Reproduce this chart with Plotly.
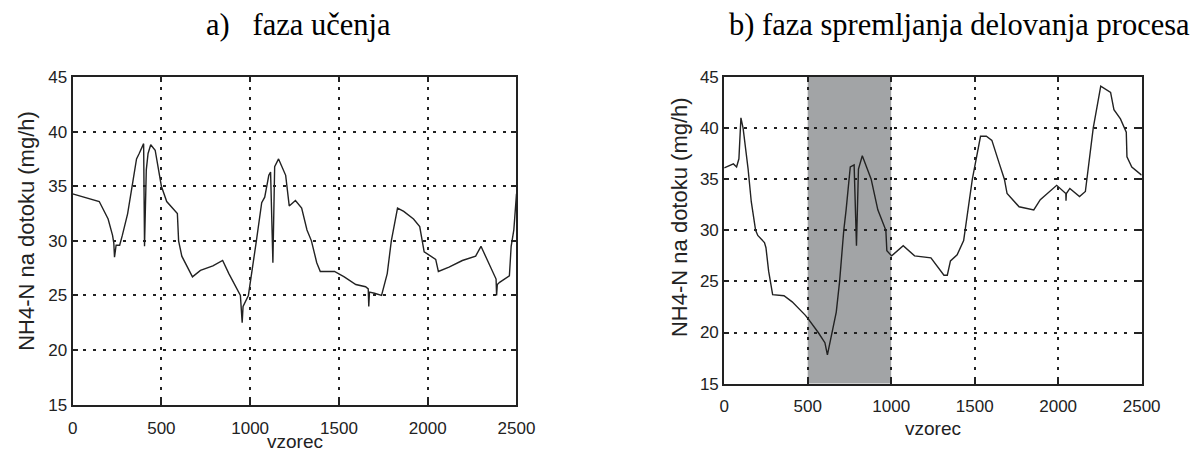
import plotly.graph_objects as go

# ---- data: a) learning phase ----
xa = [0, 150, 200, 225, 232, 236, 245, 265, 280, 310, 340, 360, 375, 390, 400, 405, 415, 425, 440, 465,
      480, 500, 530, 590, 597, 615, 675, 720, 790, 845, 880, 930, 945, 955, 960, 990, 1015, 1035, 1065, 1082,
      1105, 1115, 1128, 1138, 1160, 1200, 1220, 1255, 1290, 1320, 1345, 1375, 1395, 1475, 1530, 1595, 1650, 1665, 1668, 1672,
      1700, 1740, 1772, 1795, 1830, 1865, 1920, 1955, 1980, 2045, 2060, 2120, 2195, 2270, 2300, 2325, 2370, 2385, 2388, 2392,
      2405, 2460, 2470, 2485, 2500]
ya = [34.3, 33.6, 32.0, 30.5, 29.8, 28.5, 29.6, 29.6, 30.5, 32.5, 35.5, 37.5, 38.0, 38.5, 38.9, 29.5, 36.5, 38.0, 38.8, 38.3,
      37.0, 35.0, 33.6, 32.5, 30.0, 28.6, 26.7, 27.3, 27.7, 28.2, 27.0, 25.5, 25.0, 22.5, 24.0, 25.0, 28.0, 30.0, 33.5, 34.0,
      36.0, 36.3, 28.0, 36.8, 37.5, 36.0, 33.2, 33.7, 33.0, 31.0, 30.0, 28.0, 27.2, 27.2, 26.7, 26.0, 25.8, 25.6, 24.0, 25.3,
      25.2, 25.0, 27.0, 30.0, 33.0, 32.7, 32.0, 31.3, 29.0, 28.3, 27.2, 27.6, 28.2, 28.6, 29.5, 28.6, 27.0, 26.5, 25.0, 26.0,
      26.2, 26.8, 29.5, 31.0, 34.3]

# ---- data: b) monitoring phase ----
xb = [0, 55, 74, 88, 100, 113, 143, 162, 188, 201, 241, 250, 266, 290, 358, 407, 485, 500, 563, 603,
      618, 632, 671, 691, 704, 716, 730, 750, 755, 778, 792, 804, 827, 857, 880, 920, 951, 968, 974, 1003,
      1072, 1140, 1238, 1287, 1316, 1336, 1355, 1395, 1434, 1486, 1535, 1570, 1603, 1648, 1678, 1694, 1766, 1854, 1893, 1991,
      2046, 2047, 2049, 2070, 2128, 2163, 2210, 2255, 2314, 2334, 2373, 2408, 2412, 2441, 2500]
yb = [36.1, 36.5, 36.2, 37.0, 41.0, 40.0, 36.0, 32.8, 30.0, 29.5, 28.8, 28.3, 26.0, 23.7, 23.6, 23.0, 21.7, 21.4, 20.0, 19.0,
      17.8, 19.0, 22.0, 25.0, 28.0, 30.0, 32.0, 35.0, 36.2, 36.4, 28.5, 36.0, 37.3, 36.0, 35.0, 32.0, 30.7, 30.0, 28.0, 27.5,
      28.5, 27.5, 27.3, 26.3, 25.6, 25.6, 27.0, 27.6, 29.0, 35.0, 39.2, 39.2, 38.8, 36.5, 35.0, 33.6, 32.3, 32.0, 33.0, 34.4,
      33.6, 32.9, 33.6, 34.1, 33.3, 33.8, 40.0, 44.1, 43.5, 41.8, 40.9, 39.6, 37.2, 36.2, 35.4]

band = [500, 1000]
xticks = [0, 500, 1000, 1500, 2000, 2500]
yticks = [15, 20, 25, 30, 35, 40, 45]

title_a = "a)   faza učenja"
title_b = "b) faza spremljanja delovanja procesa"
xlabel = "vzorec"
ylabel = "NH4-N na dotoku (mg/h)"

W, H = 1192, 453
LINE = "#222222"

fig = go.Figure()
fig.add_trace(go.Scatter(x=xa, y=ya, mode="lines", line=dict(color=LINE, width=1.4),
                         xaxis="x", yaxis="y", showlegend=False, hoverinfo="skip"))
fig.add_trace(go.Scatter(x=xb, y=yb, mode="lines", line=dict(color=LINE, width=1.4),
                         xaxis="x2", yaxis="y2", showlegend=False, hoverinfo="skip"))

# gray band in plot b
fig.add_shape(type="rect", xref="x2", yref="y2 domain", x0=band[0], x1=band[1], y0=0, y1=1,
              fillcolor="#a2a4a6", line=dict(width=0), layer="below")

# pixel boxes of the two axes
ax_a = dict(l=69, r=522, t=71, b=413)
ax_b = dict(l=734, r=1160, t=71, b=391)

def xdom(a):
    return [a["l"] / W, a["r"] / W]

def ydom(a):
    return [1 - a["b"] / H, 1 - a["t"] / H]

common = dict(showline=True, linecolor=LINE, linewidth=2, mirror="allticks",
              ticks="inside", ticklen=5, tickcolor=LINE, tickwidth=1.5,
              showgrid=True, gridcolor=LINE, gridwidth=2, griddash="3px,7px",
              zeroline=False, tickfont=dict(family="Liberation Sans, Arial", size=17, color=LINE))

fig.update_layout(
    width=W, height=H, margin=dict(l=0, r=0, t=0, b=0),
    paper_bgcolor="white", plot_bgcolor="white",
    xaxis=dict(domain=xdom(ax_a), range=[0, 2500], tickvals=xticks, anchor="y", ticklabelstandoff=7, **common),
    yaxis=dict(domain=ydom(ax_a), range=[15, 45], tickvals=yticks, anchor="x", **common),
    xaxis2=dict(domain=xdom(ax_b), range=[0, 2500], tickvals=xticks, anchor="y2", ticklabelstandoff=6, **common),
    yaxis2=dict(domain=ydom(ax_b), range=[15, 45], tickvals=yticks, anchor="x2", **common),
)

xlab_font = dict(family="Liberation Sans, Arial", size=19, color=LINE)
ylab_font = dict(family="Liberation Sans, Arial", size=22, color=LINE)
title_font = dict(family="Liberation Serif, Times New Roman", size=30.5, color="black")

def px_x(p):
    return p / W

def px_y(p):
    return 1 - p / H

annotations = [
    dict(text=title_a, x=px_x(300), y=px_y(17), xref="paper", yref="paper", showarrow=False,
         font=title_font, xanchor="center", yanchor="middle"),
    dict(text=title_b, x=px_x(974), y=px_y(17), xref="paper", yref="paper", showarrow=False,
         font=title_font, xanchor="center", yanchor="middle"),
    dict(text=xlabel, x=px_x((ax_a["l"] + ax_a["r"]) / 2), y=px_y(451), xref="paper", yref="paper",
         showarrow=False, font=xlab_font, xanchor="center", yanchor="middle"),
    dict(text=xlabel, x=px_x((ax_b["l"] + ax_b["r"]) / 2), y=px_y(438), xref="paper", yref="paper",
         showarrow=False, font=xlab_font, xanchor="center", yanchor="middle"),
    dict(text=ylabel, x=px_x(22), y=px_y(232), xref="paper", yref="paper",
         showarrow=False, font=ylab_font, textangle=-90, xanchor="center", yanchor="middle"),
    dict(text=ylabel, x=px_x(689), y=px_y(217), xref="paper", yref="paper",
         showarrow=False, font=ylab_font, textangle=-90, xanchor="center", yanchor="middle"),
]
fig.update_layout(annotations=annotations)

fig.write_html("out.html", config={"displayModeBar": False})
